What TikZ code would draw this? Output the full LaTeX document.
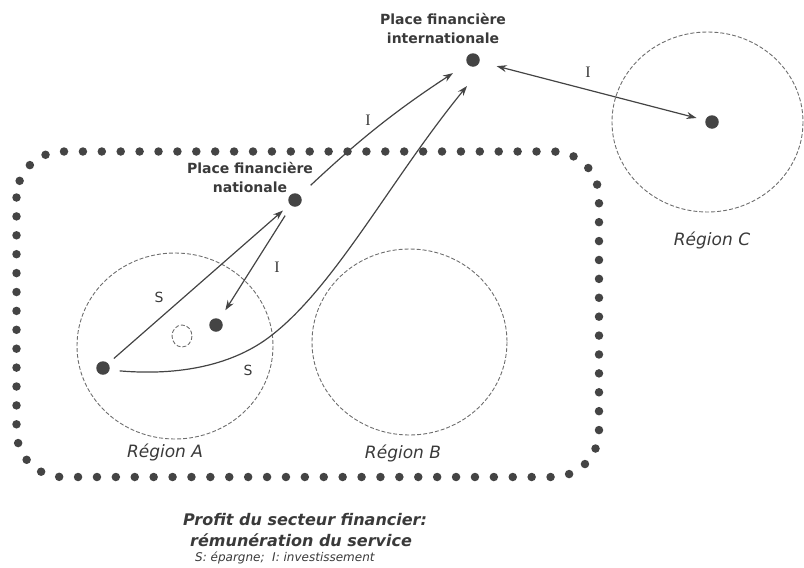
\documentclass[tikz,border=0pt]{standalone}
\usepackage{fontspec}
\setmainfont{DejaVu Sans}
\newfontfamily\serifI{Liberation Serif}
\usetikzlibrary{arrows.meta,calc}
\definecolor{ink}{HTML}{444444}
\definecolor{txt}{HTML}{3A3A3A}
\definecolor{dash}{HTML}{6E6E6E}
\begin{document}
\begin{tikzpicture}[x=1pt,y=-1pt,
  dot/.style={circle,fill=ink,minimum size=13.5pt,inner sep=0pt},
  region/.style={draw=dash,line width=0.9pt,dash pattern=on 4pt off 2pt},
  arr/.style={draw=ink,line width=1.2pt,-{Stealth[length=10pt,width=7pt]}},
  darr/.style={draw=ink,line width=1.2pt,{Stealth[length=10pt,width=7pt]}-{Stealth[length=10pt,width=7pt]}},
  placelab/.style={font=\bfseries\fontsize{14}{19}\selectfont,text=txt,align=center},
  reglab/.style={font=\itshape\fontsize{17}{19}\selectfont,text=txt},
  ilab/.style={font=\serifI\fontsize{16}{18}\selectfont,text=txt},
  slab/.style={font=\fontsize{14}{16}\selectfont,text=txt},
  caption/.style={anchor=west,font=\bfseries\itshape\fontsize{16}{18}\selectfont,text=txt,inner sep=0pt},
  border/.style={draw=ink,line width=8.5pt,line cap=round,dash pattern=on 0pt off 18.9pt}]
\useasboundingbox (0,0) rectangle (804,568);
% dotted rounded frame
\draw[border,rounded corners=46pt] (16.5,151.5) rectangle (599,477);
% regions
\draw[region] (175,346) ellipse [x radius=98, y radius=93];
\draw[region] (409.5,342) ellipse [x radius=97.5, y radius=93];
\draw[region] (707.5,122) ellipse [x radius=95.5, y radius=90];
\draw[region] (182,336) ellipse [x radius=10, y radius=11];
% points
\node[dot] (intl) at (473,60) {};
\node[dot] (nat) at (295,200) {};
\node[dot] (cdot) at (712,122) {};
\node[dot] (adot) at (216,325) {};
\node[dot] (asrc) at (103,368) {};
\coordinate (intlS) at ($(intl)+(-6,26)$);
% labels
\node[placelab] (lintl) at (443,28) {Place financière\\internationale};
\node[placelab] (lnat) at (250,177) {Place financière\\nationale};
\node[reglab] (la) at (165,452) {Région A};
\node[reglab] (lb) at (403,453) {Région B};
\node[reglab] (lc) at (712,240) {Région C};
% arrows
\draw[arr,shorten <=7.5pt,shorten >=9pt] (asrc) -- (nat);
\draw[arr,shorten <=11.5pt,shorten >=10.5pt] (nat) -- (adot);
\draw[arr,shorten <=14.5pt,shorten >=17pt] (nat) to[bend left=5] (intl);
\draw[darr,shorten <=17.5pt,shorten >=9pt] (intl) -- (cdot);
\draw[arr,shorten <=10pt] (asrc.-17) .. controls (180,376) and (234,365) .. (272,335)
  .. controls (336,285) and (391,179) .. (intlS);
% flow labels
\node[ilab] (i1) at (368,120) {I};
\node[ilab] (i2) at (588,72) {I};
\node[ilab] (i3) at (277,267) {I};
\node[slab] (s1) at (159,297) {S};
\node[slab] (s2) at (248,370) {S};
% caption
\node[caption] (cap1) at (183,520) {Profit du secteur financier:};
\node[caption] (cap2) at (190,540) {rémunération du service};
\node[anchor=west,font=\itshape\fontsize{12}{14}\selectfont,text=txt,inner sep=0pt] (cap3) at (195,558) {S: épargne;\ \ I: investissement};
\end{tikzpicture}
\end{document}
